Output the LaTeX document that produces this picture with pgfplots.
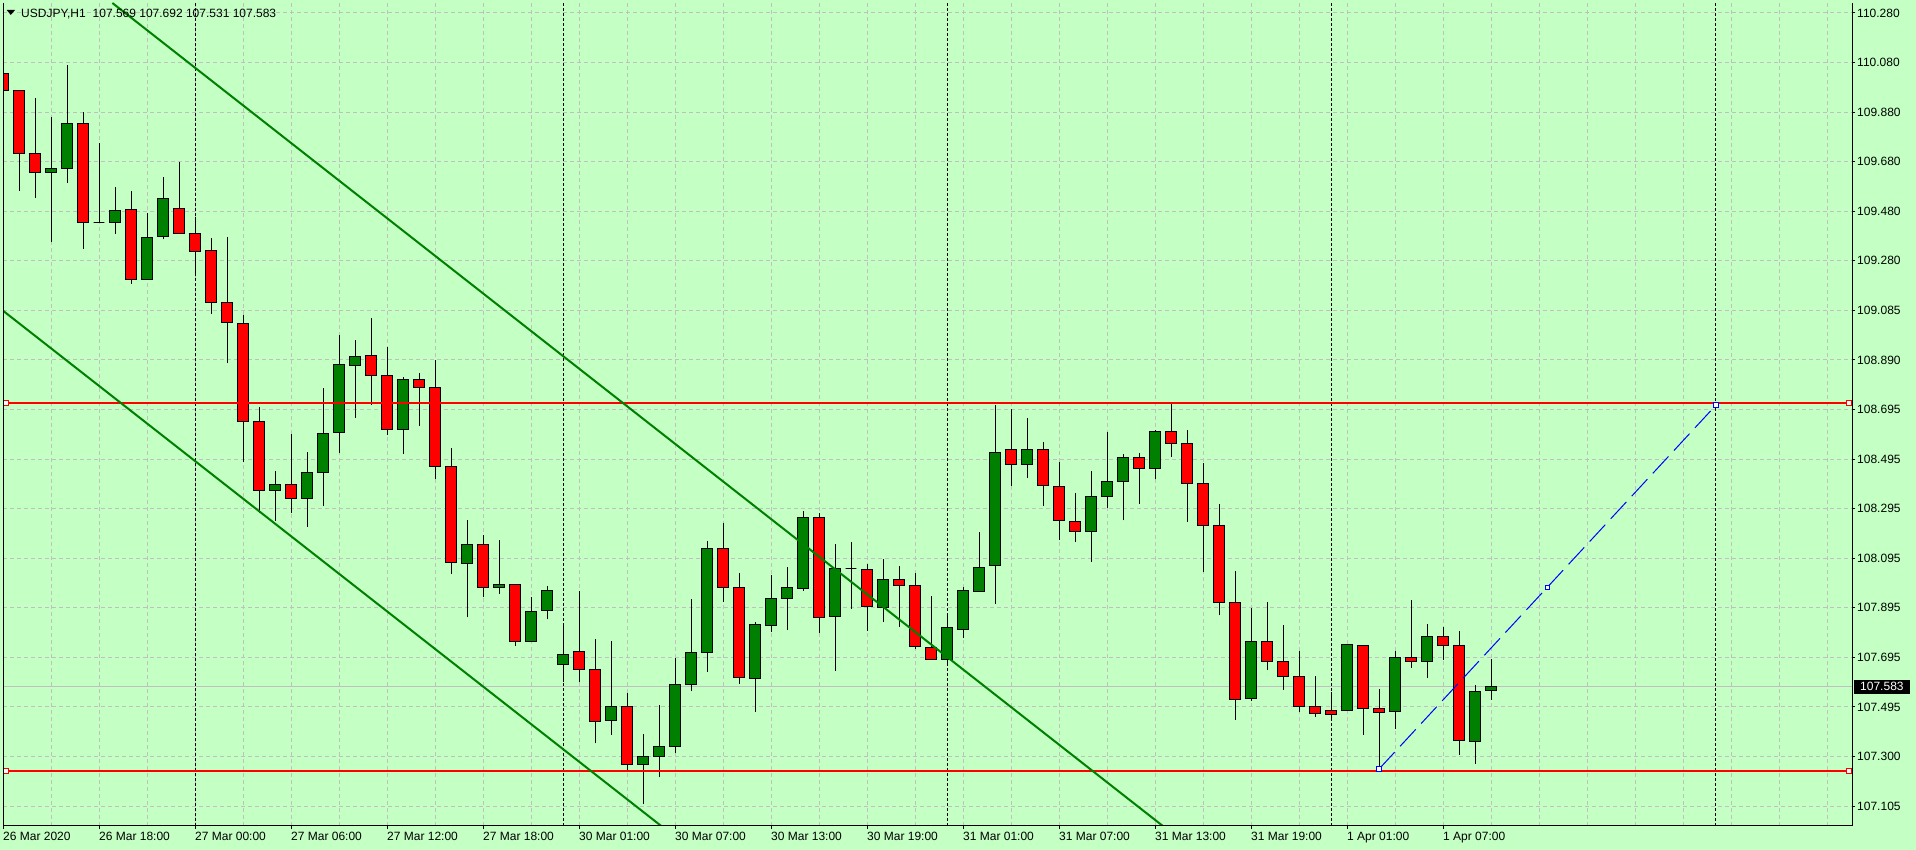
\documentclass[border=0pt]{standalone}
\usepackage{fontspec}
\setmainfont{Liberation Sans}
\usepackage{pgfplots}
\usepackage{pgfplotstable}
\pgfplotsset{compat=1.18}

\definecolor{chartbg}{RGB}{196,255,196}
\definecolor{bull}{RGB}{0,128,0}
\definecolor{bear}{RGB}{255,0,0}
\definecolor{gridc}{RGB}{192,192,192}
\definecolor{bidc}{RGB}{192,192,192}

% USDJPY H1 candles, k = bar index (0 = 26 Mar 12:00)
\pgfplotstableread{
k O H L C
0 110.039 110.163 109.802 109.971
1 109.971 109.971 109.569 109.718
2 109.718 109.940 109.541 109.642
3 109.642 109.864 109.365 109.658
4 109.658 110.072 109.601 109.838
5 109.838 109.884 109.337 109.442
6 109.442 109.758 109.442 109.442
7 109.442 109.583 109.397 109.490
8 109.494 109.566 109.196 109.214
9 109.214 109.479 109.214 109.382
10 109.386 109.623 109.374 109.538
11 109.498 109.682 109.398 109.398
12 109.398 109.464 109.230 109.326
13 109.330 109.378 109.076 109.122
14 109.122 109.382 108.880 109.042
15 109.038 109.070 108.481 108.645
16 108.645 108.701 108.277 108.369
17 108.369 108.445 108.248 108.393
18 108.393 108.593 108.280 108.337
19 108.337 108.521 108.224 108.441
20 108.441 108.778 108.307 108.598
21 108.601 108.991 108.519 108.873
22 108.869 108.971 108.660 108.905
23 108.909 109.059 108.711 108.829
24 108.829 108.942 108.591 108.612
25 108.612 108.822 108.516 108.814
26 108.814 108.839 108.628 108.780
27 108.781 108.891 108.416 108.465
28 108.465 108.539 108.035 108.080
29 108.075 108.250 107.860 108.152
30 108.150 108.191 107.940 107.981
31 107.981 108.170 107.955 107.992
32 107.992 107.992 107.747 107.765
33 107.765 107.943 107.765 107.885
34 107.889 107.986 107.852 107.969
35 107.673 107.829 107.600 107.713
36 107.725 107.966 107.600 107.652
37 107.652 107.774 107.356 107.445
38 107.449 107.766 107.391 107.505
39 107.505 107.559 107.241 107.273
40 107.273 107.393 107.113 107.305
41 107.305 107.510 107.221 107.345
42 107.345 107.697 107.317 107.593
43 107.593 107.934 107.567 107.721
44 107.721 108.166 107.643 108.137
45 108.137 108.238 107.923 107.979
46 107.981 108.038 107.593 107.621
47 107.617 107.841 107.483 107.833
48 107.827 108.029 107.803 107.937
49 107.937 108.062 107.811 107.981
50 107.975 108.287 107.967 108.261
51 108.261 108.279 107.798 107.859
52 107.863 108.154 107.647 108.057
53 108.054 108.162 107.894 108.054
54 108.053 108.074 107.807 107.903
55 107.899 108.094 107.843 108.013
56 108.013 108.066 107.823 107.989
57 107.989 108.039 107.735 107.743
58 107.741 107.946 107.693 107.693
59 107.693 107.874 107.674 107.821
60 107.813 107.982 107.779 107.969
61 107.965 108.201 107.961 108.061
62 108.069 108.711 107.915 108.521
63 108.533 108.693 108.388 108.473
64 108.473 108.659 108.420 108.533
65 108.533 108.563 108.308 108.389
66 108.385 108.483 108.171 108.249
67 108.245 108.357 108.163 108.205
68 108.205 108.447 108.083 108.345
69 108.345 108.603 108.300 108.405
70 108.405 108.515 108.249 108.501
71 108.501 108.519 108.316 108.457
72 108.457 108.610 108.413 108.606
73 108.606 108.718 108.504 108.558
74 108.558 108.611 108.244 108.397
75 108.397 108.479 108.043 108.229
76 108.229 108.315 107.869 107.921
77 107.921 108.046 107.449 107.533
78 107.537 107.897 107.525 107.765
79 107.765 107.922 107.651 107.685
80 107.685 107.830 107.571 107.625
81 107.625 107.726 107.483 107.505
82 107.505 107.626 107.463 107.477
83 107.489 107.561 107.449 107.473
84 107.489 107.753 107.485 107.753
85 107.749 107.749 107.391 107.497
86 107.497 107.574 107.253 107.481
87 107.485 107.726 107.415 107.701
88 107.701 107.930 107.659 107.685
89 107.685 107.834 107.619 107.785
90 107.785 107.822 107.691 107.749
91 107.749 107.806 107.311 107.369
92 107.365 107.589 107.273 107.565
93 107.569 107.692 107.531 107.583
}\candles

\begin{document}
\begin{tikzpicture}
\useasboundingbox (0pt,0pt) rectangle (1916pt,850pt);
\fill[chartbg] (0pt,0pt) rectangle (1916pt,850pt);
\begin{axis}[
    at={(3pt,24pt)}, anchor=south west,
    scale only axis, width=1849pt, height=823pt,
    xmin=0, xmax=115.5625, ymin=107.025, ymax=110.320,
    axis line style={draw=none},
    xtick={0,6,...,90},
    xticklabels={26 Mar 2020, 26 Mar 18:00, 27 Mar 00:00, 27 Mar 06:00, 27 Mar 12:00,
        27 Mar 18:00, 30 Mar 01:00, 30 Mar 07:00, 30 Mar 13:00, 30 Mar 19:00,
        31 Mar 01:00, 31 Mar 07:00, 31 Mar 13:00, 31 Mar 19:00, 1 Apr 01:00, 1 Apr 07:00},
    minor xtick={3,9,15,21,27,33,39,45,51,57,63,69,75,81,87,93,96,99,102,105,108,111,114},
    ytick={110.280,110.0816,109.8831,109.6847,109.4863,109.2878,109.0894,108.8909,
        108.6925,108.4941,108.2956,108.0972,107.8988,107.7003,107.5019,107.3034,107.105},
    yticklabels={110.280,110.080,109.880,109.680,109.480,109.280,109.085,108.890,
        108.695,108.495,108.295,108.095,107.895,107.695,107.495,107.300,107.105},
    xtick pos=left, ytick pos=right, yticklabel pos=right,
    tick align=outside, major tick length=3pt, minor tick length=0pt,
    tick style={black, line width=1pt},
    grid=both,
    major grid style={gridc, line width=1pt, dash pattern=on 4pt off 3pt},
    minor grid style={gridc, line width=1pt, dash pattern=on 4pt off 3pt},
    every tick label/.append style={font=\fontsize{12}{14}\selectfont, text=black},
    xticklabel style={anchor=north west, inner sep=0pt, yshift=-3pt},
    yticklabel style={anchor=west, inner sep=0pt, xshift=2pt},
]
% period separators
\pgfplotsinvokeforeach{12,35,59,83,107}{
  \addplot[black, line width=1pt, dash pattern=on 3pt off 2pt] coordinates {(#1,107.025) (#1,110.320)};
}
% bid line
\addplot[bidc, line width=1pt] coordinates {(0,107.583) (115.5625,107.583)};

% candles: wick, then body
\pgfplotstablegetrowsof{\candles}
\pgfmathtruncatemacro{\lastrow}{\pgfplotsretval-1}
\pgfplotsforeachungrouped \cidx in {0,...,\lastrow}{%
  \pgfplotstablegetelem{\cidx}{k}\of\candles \let\ck\pgfplotsretval
  \pgfplotstablegetelem{\cidx}{O}\of\candles \let\co\pgfplotsretval
  \pgfplotstablegetelem{\cidx}{H}\of\candles \let\ch\pgfplotsretval
  \pgfplotstablegetelem{\cidx}{L}\of\candles \let\cl\pgfplotsretval
  \pgfplotstablegetelem{\cidx}{C}\of\candles \let\cc\pgfplotsretval
  \pgfmathtruncatemacro\isbear{\cc<\co}
  \ifnum\isbear=1 \def\cf{bear}\else\def\cf{bull}\fi
  \pgfmathsetmacro\xl{max(\ck-0.33,0)}
  \pgfmathsetmacro\xr{\ck+0.33}
  \edef\doplot{%
    \noexpand\addplot[black, line width=1pt] coordinates {(\ck,\cl) (\ck,\ch)};
    \noexpand\addplot[draw=black, line width=1pt, fill=\cf]
      coordinates {(\xl,\co) (\xr,\co) (\xr,\cc) (\xl,\cc)} -- cycle;}
  \doplot
}

% horizontal levels
\addplot[bear, line width=2pt] coordinates {(0,108.718) (115.5625,108.718)};
\addplot[bear, line width=2pt] coordinates {(0,107.247) (115.5625,107.247)};
\addplot[only marks, mark=square*, mark size=2.5pt,
    mark options={fill=white, draw=bear, line width=1pt}]
    coordinates {(0.2,108.718) (115.35,108.718) (0.2,107.247) (115.35,107.247)};

% channel
\addplot[bull, line width=2pt] coordinates {(6.836,110.320) (72.49,107.025)};
\addplot[bull, line width=2pt] coordinates {(0,109.088) (41.14,107.025)};

% projection
\addplot[blue, line width=1pt, dash pattern=on 23pt off 8pt] coordinates {(86,107.253) (107.06,108.71)};
\addplot[only marks, mark=square*, mark size=2.2pt,
    mark options={fill=white, draw=blue, line width=1pt}]
    coordinates {(86,107.253) (96.53,107.98) (107.06,108.71)};

\coordinate (bid) at (axis cs:115.5625,107.583);
\coordinate (bl) at (rel axis cs:0,0);
\coordinate (tr) at (rel axis cs:1,1);
\end{axis}
\draw[black, line width=1pt] (bl |- tr) -- (bl) -- (tr |- bl) -- (tr);
\fill[black] (6.7pt,840pt) -- (15pt,840pt) -- (10.8pt,835pt) -- cycle;
\node[anchor=base west, inner sep=0pt, font=\fontsize{12}{14}\selectfont]
    at (21pt,832.7pt) {USDJPY,H1\hspace{7pt}107.569 107.692 107.531 107.583};
\node[fill=black, text=white, anchor=west, inner xsep=6pt, inner ysep=0pt,
    minimum height=14pt, font=\fontsize{12}{14}\selectfont] at ([xshift=2pt]bid) {107.583};
\end{tikzpicture}
\end{document}
